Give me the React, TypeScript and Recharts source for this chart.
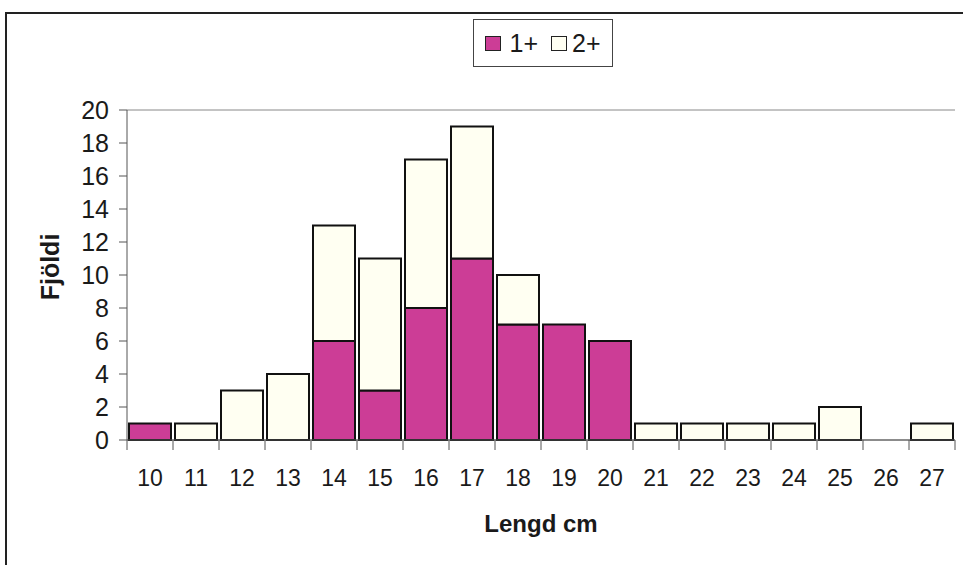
import React from "react";
import { BarChart, Bar, XAxis, YAxis, CartesianGrid } from "recharts";

const categories = ["10","11","12","13","14","15","16","17","18","19","20","21","22","23","24","25","26","27"];
const oneplus = [1,0,0,0,6,3,8,11,7,7,6,0,0,0,0,0,0,0];
const twoplus = [0,1,3,4,7,8,9,8,3,0,0,1,1,1,1,2,0,1];
const yTicks = [0,2,4,6,8,10,12,14,16,18,20];
const seriesNames = ["1+", "2+"];
const yTitle = "Fjöldi";
const xTitle = "Lengd cm";

const data = categories.map((c, i) => ({ len: c, a: oneplus[i], b: twoplus[i] }));

const PINK = "#CC3D96";
const CREAM = "#FFFFF2";
const FONT = "Arial, 'Liberation Sans', sans-serif";

const XTick = (props: any) => {
  const { x, y, payload, index, visibleTicksCount } = props;
  const step = 46;
  return (
    <g>
      <line x1={x - step / 2} x2={x - step / 2} y1={y - 8} y2={y + 2} stroke="#555" strokeWidth={1} />
      {index === visibleTicksCount - 1 && (
        <line x1={x + step / 2} x2={x + step / 2} y1={y - 8} y2={y + 2} stroke="#555" strokeWidth={1} />
      )}
      <text x={x} y={y + 38} textAnchor="middle" fontSize={23} fill="#1a1a1a" fontFamily={FONT}>
        {payload.value}
      </text>
    </g>
  );
};

const YTitle = (props: any) => {
  const vb = props.viewBox || {};
  const cx = (vb.x || 0) + 50;
  const cy = (vb.y || 0) + (vb.height || 0) / 2 - 8;
  return (
    <text
      x={cx}
      y={cy}
      transform={`rotate(-90, ${cx}, ${cy})`}
      textAnchor="middle"
      dominantBaseline="central"
      fontSize={25}
      fontWeight="bold"
      fill="#1a1a1a"
      fontFamily={FONT}
    >
      {yTitle}
    </text>
  );
};

const LegendBox = () => (
  <div
    style={{
      position: "absolute",
      left: 473,
      top: 19,
      border: "1px solid #444",
      width: 140,
      height: 48,
      boxSizing: "border-box",
      display: "flex",
      alignItems: "center",
      justifyContent: "center",
      fontFamily: FONT,
      fontSize: 25,
      color: "#1a1a1a",
      background: "#fff",
    }}
  >
    <span style={{ display: "inline-block", width: 16, height: 15, background: PINK, border: "1.5px solid #222", marginRight: 8, boxSizing: "border-box" }} />
    <span>{seriesNames[0]}</span>
    <span style={{ display: "inline-block", width: 16, height: 15, background: CREAM, border: "1.5px solid #222", marginLeft: 13, marginRight: 5, boxSizing: "border-box" }} />
    <span>{seriesNames[1]}</span>
  </div>
);

export default function App() {
  return (
    <div style={{ position: "absolute", left: 0, top: 0, width: 963, height: 565, background: "#fff", overflow: "hidden" }}>
      <div
        style={{
          position: "absolute",
          left: 5,
          top: 12,
          width: 962,
          height: 560,
          border: "2px solid #222",
          boxSizing: "border-box",
        }}
      />
      <div style={{ position: "absolute", left: 0, top: 0 }}>
        <BarChart
          width={963}
          height={565}
          data={data}
          margin={{ top: 110, right: 8, bottom: 0, left: 0 }}
          barCategoryGap={2}
        >
          <CartesianGrid vertical={false} stroke="#888" strokeWidth={1} />
          <XAxis
            dataKey="len"
            tick={<XTick />}
            tickLine={false}
            axisLine={{ stroke: "#555" }}
            interval={0}
            height={125}
            label={{ value: xTitle, position: "insideTop", dy: 70, fontSize: 24, fontWeight: "bold", fill: "#1a1a1a", fontFamily: FONT }}
          />
          <YAxis
            yAxisId="l"
            domain={[0, 20]}
            ticks={yTicks}
            interval={0}
            width={127}
            tick={{ fontSize: 25, fill: "#1a1a1a", fontFamily: FONT }}
            tickLine={{ stroke: "#555" }}
            tickSize={8}
            tickMargin={10}
            axisLine={{ stroke: "#555" }}
            label={<YTitle />}
          />
          <YAxis yAxisId="r" orientation="right" width={0} tick={false} tickLine={false} axisLine={{ stroke: "#888" }} domain={[0, 20]} />
          <Bar yAxisId="l" dataKey="a" name={seriesNames[0]} stackId="s" fill={PINK} stroke="#111" strokeWidth={2} isAnimationActive={false} />
          <Bar yAxisId="l" dataKey="b" name={seriesNames[1]} stackId="s" fill={CREAM} stroke="#111" strokeWidth={2} isAnimationActive={false} />
        </BarChart>
      </div>
      <LegendBox />
    </div>
  );
}
